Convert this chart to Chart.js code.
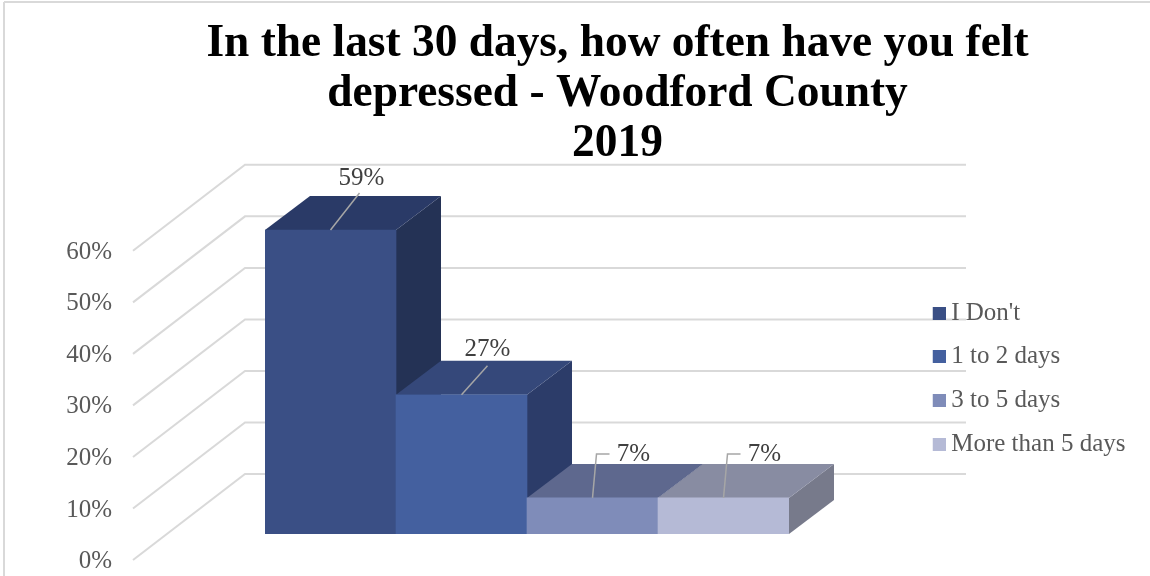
<!DOCTYPE html>
<html><head><meta charset="utf-8">
<style>html,body{margin:0;padding:0;background:#fff}canvas{display:block}</style>
<script src="https://cdn.jsdelivr.net/npm/chart.js@4"></script></head>
<body><canvas id="c" width="1150" height="576"></canvas>
<script>
const categories = ["I Don't", "1 to 2 days", "3 to 5 days", "More than 5 days"];
const values = [59, 27, 7, 7];
const axisTicks = [0, 10, 20, 30, 40, 50, 60];
const titleLines = ["In the last 30 days, how often have you felt", "depressed - Woodford County", "2019"];

const frontColors = ['#3a4f85', '#44609f', '#7f8cb9', '#b5bad6'];
const topColors = ['#2a3a67', '#35487a', '#5e688e', '#888ca2'];
const sideColors = ['#243255', '#2c3c69', '#4a5477', '#777a8b'];
// label offset from the bar's top centre, and leader-line elbows
const labelOffsets = [
  {lx: 31, ly: -52, path: [[0, 0], [29, -37]]},
  {lx: 26, ly: -45, path: [[0, 0], [26, -29]]},
  {lx: 41, ly: -43, path: [[0, 0], [4, -44], [17, -44]]},
  {lx: 41, ly: -43, path: [[0, 0], [4, -44], [17, -44]]}
];
const FONT = '"Liberation Serif", serif';
const GRID = '#d9d9d9', TEXT = '#595959';
const DX = 45, DY = -34;              // bar depth
const AX_SHIFT_Y = 27.5, AX_RIGHT = 133;// floor front edge relative to bars
const WALL_X = 245, WALL_Y = -60, WALL_END = 966;

function legendSwatch(color) {
  const k = document.createElement('canvas');
  k.width = 20; k.height = 13;
  const g = k.getContext('2d');
  g.fillStyle = color; g.fillRect(7, 0, 13, 13);
  return k;
}

const depth = {
  id: 'depth',
  afterLayout(chart) {
    const ax = chart.scales.yAxis;
    const w = ax.right - ax.left;
    ax.right = AX_RIGHT; ax.left = AX_RIGHT - w;
    ax.top += AX_SHIFT_Y; ax.bottom += AX_SHIFT_Y;
    ax.configure();
    const t = chart.titleBlock;
    t.left = 117.5; t.right = 1117.5;
    const l = chart.legend;
    l.left = 914; l.right = 1150; l.top = 282; l.bottom = 500;
  },
  beforeDraw(chart) {
    const {ctx} = chart;
    const ax = chart.scales.yAxis, y = chart.scales.y;
    ctx.save();
    ctx.fillStyle = '#fff';
    ctx.fillRect(0, 0, chart.width, chart.height);
    ctx.strokeStyle = GRID; ctx.lineWidth = 2;
    ctx.beginPath(); ctx.moveTo(4, 2); ctx.lineTo(4, 576); ctx.moveTo(4, 2); ctx.lineTo(1150, 2); ctx.stroke();
    axisTicks.forEach(v => {
      const front = ax.getPixelForValue(v) - 1.5, back = y.getPixelForValue(v) + WALL_Y;
      ctx.beginPath();
      ctx.moveTo(AX_RIGHT, front); ctx.lineTo(WALL_X, back); ctx.lineTo(WALL_END, back);
      ctx.stroke();
    });
    ctx.restore();
  },
  beforeDatasetsDraw(chart) {
    const {ctx} = chart;
    const base = chart.scales.y.getPixelForValue(0);
    const bars = chart.getDatasetMeta(0).data;
    ctx.save();
    bars.forEach((b, i) => {
      const hw = b.width / 2, l = b.x - hw, r = b.x + hw, t = b.y;
      ctx.fillStyle = sideColors[i];
      ctx.beginPath();
      ctx.moveTo(r, t); ctx.lineTo(r + DX, t + DY); ctx.lineTo(r + DX, base + DY); ctx.lineTo(r, base);
      ctx.closePath(); ctx.fill();
      ctx.fillStyle = topColors[i];
      ctx.beginPath();
      ctx.moveTo(l, t); ctx.lineTo(l + DX, t + DY); ctx.lineTo(r + DX, t + DY); ctx.lineTo(r, t);
      ctx.closePath(); ctx.fill();
    });
    ctx.restore();
  },
  afterDatasetsDraw(chart) {
    const {ctx} = chart;
    const bars = chart.getDatasetMeta(0).data;
    ctx.save();
    bars.forEach((b, i) => {
      const o = labelOffsets[i];
      ctx.strokeStyle = '#a6a6a6'; ctx.lineWidth = 1.5;
      ctx.beginPath();
      o.path.forEach((p, k) => k ? ctx.lineTo(b.x + p[0], b.y + p[1]) : ctx.moveTo(b.x + p[0], b.y + p[1]));
      ctx.stroke();
      ctx.fillStyle = '#404040';
      ctx.font = '25px ' + FONT;
      ctx.textAlign = 'center'; ctx.textBaseline = 'middle';
      ctx.fillText(values[i] + '%', b.x + o.lx, b.y + o.ly);
    });
    ctx.restore();
  }
};

new Chart(document.getElementById('c'), {
  type: 'bar',
  data: {
    labels: categories,
    datasets: [{data: values, backgroundColor: frontColors, borderWidth: 0, categoryPercentage: 1, barPercentage: 1, yAxisID: 'y'}]
  },
  plugins: [depth],
  options: {
    responsive: false, animation: false,
    layout: {padding: {left: 153, right: 361, top: 0, bottom: 42}},
    scales: {
      x: {display: false},
      y: {display: false, min: 0, max: 60},
      yAxis: {
        position: 'left', min: 0, max: 60,
        afterFit(s) { s.width = 112; },
        grid: {display: false, drawTicks: false},
        border: {display: false},
        ticks: {stepSize: 10, padding: 21, color: TEXT, font: {family: FONT, size: 25}, callback: v => v + '%'}
      }
    },
    plugins: {
      title: {display: true, text: titleLines, color: '#000', font: {family: FONT, size: 45.4, weight: 'bold', lineHeight: 1.1}, padding: {top: 19, bottom: 56}},
      tooltip: {enabled: false},
      legend: {
        display: true, position: 'chartArea', align: 'start',
        labels: {
          color: TEXT, font: {family: FONT, size: 25}, padding: 18.7,
          usePointStyle: true, pointStyleWidth: 6, boxHeight: 13,
          generateLabels: () => categories.map((c, i) => ({text: c, pointStyle: legendSwatch(frontColors[i]), fontColor: TEXT, index: i, hidden: false}))
        }
      }
    }
  }
});
</script></body></html>
